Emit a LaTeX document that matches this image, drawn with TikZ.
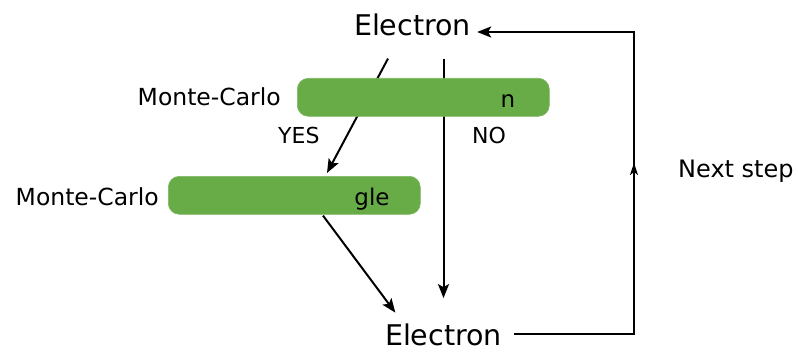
\documentclass[tikz,border=0pt]{standalone}
\usepackage{fontspec}
\setmainfont{DejaVu Sans}
\usetikzlibrary{arrows.meta,backgrounds}
\definecolor{boxgreen}{RGB}{103,172,71}
\tikzset{
  big/.style={inner sep=0pt, anchor=base, font=\fontsize{28.5}{34}\selectfont},
  lbl/.style={inner sep=0pt, anchor=base west, font=\fontsize{23.5}{28}\selectfont},
  greenbox/.style={fill=boxgreen, draw=boxgreen!85!white, line width=0.6pt, rounded corners=11pt, minimum width=252pt, minimum height=38pt, inner sep=0pt, anchor=north west},
  intext/.style={inner sep=0pt, anchor=base, font=\fontsize{23}{28}\selectfont},
  tipA/.tip={Stealth[length=14pt,width=11pt,inset=3pt]},
  tipB/.tip={Stealth[length=12pt,width=8pt,inset=3pt]},
  conn/.style={line width=2pt, -tipA},
  plain/.style={line width=2pt},
}
\begin{document}
\begin{tikzpicture}[x=1pt,y=-1pt]
\useasboundingbox (0,0) rectangle (798,353);
% top and bottom Electron
\node[big] (e1) at (412.5,36) {Electron};
\node[big] (e2) at (443.5,345) {Electron};
% green boxes
\node[greenbox] (b1) at (297,78) {};
\node[greenbox] (b2) at (168,176) {};
\node[intext] (t1) at (508,107) {n};
\node[intext] (t2) at (372,205) {gle};
% left labels
\node[lbl, anchor=base east] (m1) at (281,105) {Monte-Carlo};
\node[lbl, anchor=base east] (m2) at (159,205) {Monte-Carlo};
% YES / NO / Next step
\node[lbl, font=\fontsize{22}{26}\selectfont] (yes) at (278,143) {YES};
\node[lbl, font=\fontsize{22}{26}\selectfont] (no) at (472,143) {NO};
\node[lbl, font=\fontsize{24}{28}\selectfont] (next) at (678,177) {Next step};
% corner coordinates of loop
\coordinate (cbr) at (634,334);
\coordinate (cmid) at (634,163);
\coordinate (ctr) at (634,32);
\begin{scope}[on background layer]
\draw[conn] ([xshift=-24.5pt,yshift=-22pt]e1.south) -- ([xshift=159pt,yshift=3pt]b2.north west);
\draw[conn] ([xshift=31pt,yshift=-22pt]e1.south) -- ([yshift=25pt]e2.north);
\end{scope}
\draw[conn] ([xshift=155pt,yshift=-1pt]b2.south west) -- ([xshift=10.5pt,yshift=10.5pt]e2.north west);
\draw[conn] ([xshift=12pt]e2.east |- cbr) -- (cbr) -- (ctr) -- ([xshift=6pt]e1.east |- ctr);
\draw[plain, -tipB] (634,185) -- (cmid);
\end{tikzpicture}
\end{document}
